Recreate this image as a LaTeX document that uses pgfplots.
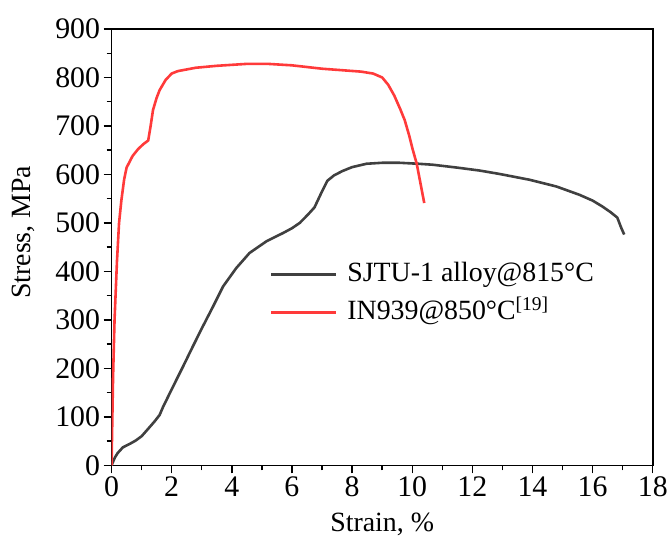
\documentclass[border=0pt]{standalone}
\usepackage{pgfplots}
\pgfplotsset{compat=1.18}
\usepackage{fontspec}
\setmainfont{Liberation Serif}
\definecolor{curvegray}{RGB}{64,64,64}
\definecolor{curvered}{RGB}{255,58,58}
\begin{document}
\begin{tikzpicture}
\begin{axis}[
  scale only axis,
  width=542bp, height=437bp,
  xmin=0, xmax=18, ymin=0, ymax=900,
  xtick={0,2,...,18}, ytick={0,100,...,900},
  minor x tick num=1, minor y tick num=1,
  tick pos=left,
  tick align=outside,
  major tick length=8bp, minor tick length=5bp,
  every tick/.style={black, line width=1.4bp},
  axis line style={line width=1.6bp},
  /pgf/number format/assume math mode=true,
  tick label style={font=\fontsize{30}{33}\selectfont},
  label style={font=\fontsize{28}{32}\selectfont},
  xlabel={Strain, \%},
  ylabel={Stress, MPa},
  xlabel style={at={(axis description cs:0.5,0)}, anchor=base, yshift=-66bp},
  ylabel style={at={(axis description cs:0,0.5)}, anchor=center, yshift=88bp, xshift=15bp},
  legend style={draw=none, fill=none, at={(axis cs:5.26,354)}, anchor=west,
    inner sep=0pt, row sep=12bp,
    font=\fontsize{28}{32}\selectfont,
    nodes={inner sep=0pt, text height=20bp, text depth=6bp}},
  legend cell align=left,
  legend image code/.code={\draw[#1] (0bp,0bp) -- (65bp,0bp); \path (75bp,0bp);},
]
\addplot[curvegray, line width=2.6bp, line join=round] coordinates {
(0,0)(0.11,16)(0.2,25)(0.375,37)(0.6,44)(0.8,51)(1.0,60)(1.27,79)(1.45,92)(1.6,104)(1.71,120)
(2.05,163)(2.38,204)(2.71,246)(3.04,287)(3.38,328)(3.71,369)(4.15,407)(4.59,438)
(5.15,462)(5.7,479)(6.0,489)(6.26,500)(6.53,517)(6.75,532)(7.0,565)(7.18,587)
(7.4,598)(7.68,607)(8.0,615)(8.48,622)(9.0,624)(9.58,624)(10.2,622)(10.68,620)
(11.5,614)(12.24,608)(12.9,601)(13.9,589)(14.8,575)(15.56,558)(16.0,546)
(16.32,534)(16.6,522)(16.82,511)(16.95,490)(17.05,476)
};
\addlegendentry{SJTU-1 alloy@815°C}
\addplot[curvered, line width=2.6bp, line join=round] coordinates {
(0,0)(0.05,180)(0.1,300)(0.18,420)(0.25,500)(0.33,548)(0.42,590)(0.5,614)
(0.7,638)(0.88,652)(1.05,662)(1.22,670)(1.3,700)(1.38,733)(1.5,758)(1.6,774)
(1.8,795)(2.0,808)(2.2,813)(2.8,820)(3.5,824)(4.5,828)(5.2,828)(6,825)(7,818)
(8.3,812)(8.7,808)(9.0,800)(9.2,785)(9.4,763)(9.6,735)(9.75,712)(9.9,680)
(10.0,655)(10.15,622)(10.4,541)
};
\addlegendentry{IN939@850°C\textsuperscript{[19]}}
\end{axis}
\useasboundingbox (-111.7bp,-71bp) rectangle (559.3bp,466bp);
\end{tikzpicture}
\end{document}
